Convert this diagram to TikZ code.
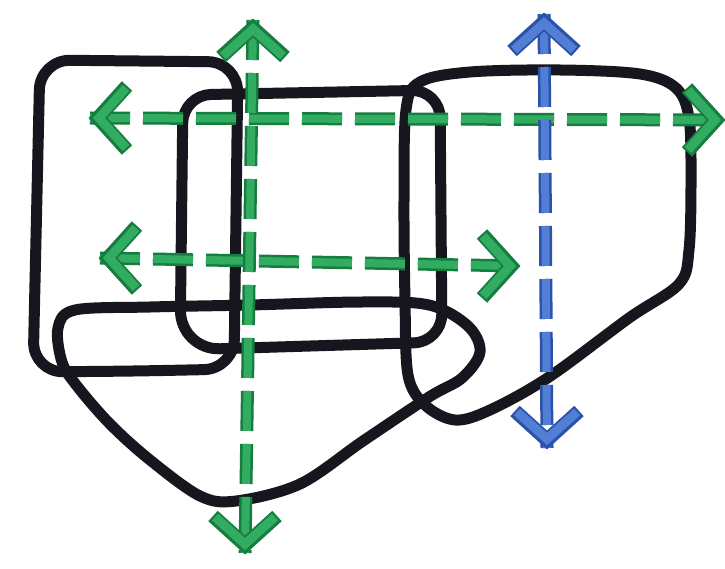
\documentclass[tikz,border=0pt]{standalone}
\usetikzlibrary{calc}
\definecolor{ink}{RGB}{22,22,30}
\definecolor{gdark}{RGB}{22,125,64}
\definecolor{glight}{RGB}{50,172,96}
\definecolor{bdark}{RGB}{42,82,168}
\definecolor{blight}{RGB}{82,126,214}
\tikzset{
  inkline/.style={draw=ink, line width=11pt, line join=round, line cap=round},
  shaftdark/.style={draw=#1, line width=13pt, dash pattern=on 40pt off 13pt},
  shaftlight/.style={draw=#1, line width=8pt, dash pattern=on 40pt off 13pt},
  pics/chev/.style args={#1/#2}{code={
    \draw[#1, line width=14pt, line join=miter] (-37,-32) -- (-8,0) -- (-37,32);
    \draw[#2, line width=9pt, line join=miter] (-36,-30) -- (-9,0) -- (-36,30);
  }}
}
\begin{document}
\begin{tikzpicture}[x=1pt,y=-1pt]
\useasboundingbox[fill=white] (0,0) rectangle (725,569);

% black shapes
\draw[inkline, rounded corners=30pt] (140,371) -- (33,372) -- (40,60) -- (238,62) -- (234,369) -- cycle;
\draw[inkline] (310,346) [rounded corners=40pt] -- (180,350) [rounded corners=28pt] -- (183,95) -- (440,90) -- (442,342) -- cycle;
\draw[inkline] plot[smooth cycle, tension=0.55] coordinates {
  (406,110) (420,82) (470,72) (560,70) (640,74) (676,88) (689,118) (691,180) (689,250)
  (679,284) (629,318) (549,377) (490,410) (455,420) (425,405) (408,375) (405,300) (404,200)};
\draw[inkline] plot[smooth cycle, tension=0.55] coordinates {
  (58,328) (75,310) (150,307) (250,305) (362,302) (429,305) (468,326) (480,352) (462,378)
  (429,397) (363,441) (300,484) (236,501) (200,496) (150,460) (110,424) (77,386) (62,362)};

% arrow end points
\coordinate (gTopL) at (90,118);
\coordinate (gTopR) at (724,120);
\coordinate (gMidL) at (100,258);
\coordinate (gMidR) at (519,266);
\coordinate (gVT) at (253,20);
\coordinate (gVB) at (245,553);
\coordinate (bT) at (544,14);
\coordinate (bB) at (547,448);

% green shafts
\foreach \a/\b in {gTopL/gTopR, gMidL/gMidR, gVT/gVB}{
  \draw[shaftdark=gdark] (\a) -- (\b);
  \draw[shaftlight=glight] (\a) -- (\b);
}
% blue shaft
\draw[shaftdark=bdark] (bT) -- (bB);
\draw[shaftlight=blight] (bT) -- (bB);

% heads
\pic[rotate=180] at (gTopL) {chev={gdark/glight}};
\pic at (gTopR) {chev={gdark/glight}};
\pic[rotate=180] at (gMidL) {chev={gdark/glight}};
\pic at (gMidR) {chev={gdark/glight}};
\pic[rotate=90] at (gVT) {chev={gdark/glight}};
\pic[rotate=-90] at (gVB) {chev={gdark/glight}};
\pic[rotate=90] at (bT) {chev={bdark/blight}};
\pic[rotate=-90] at (bB) {chev={bdark/blight}};
\end{tikzpicture}
\end{document}
